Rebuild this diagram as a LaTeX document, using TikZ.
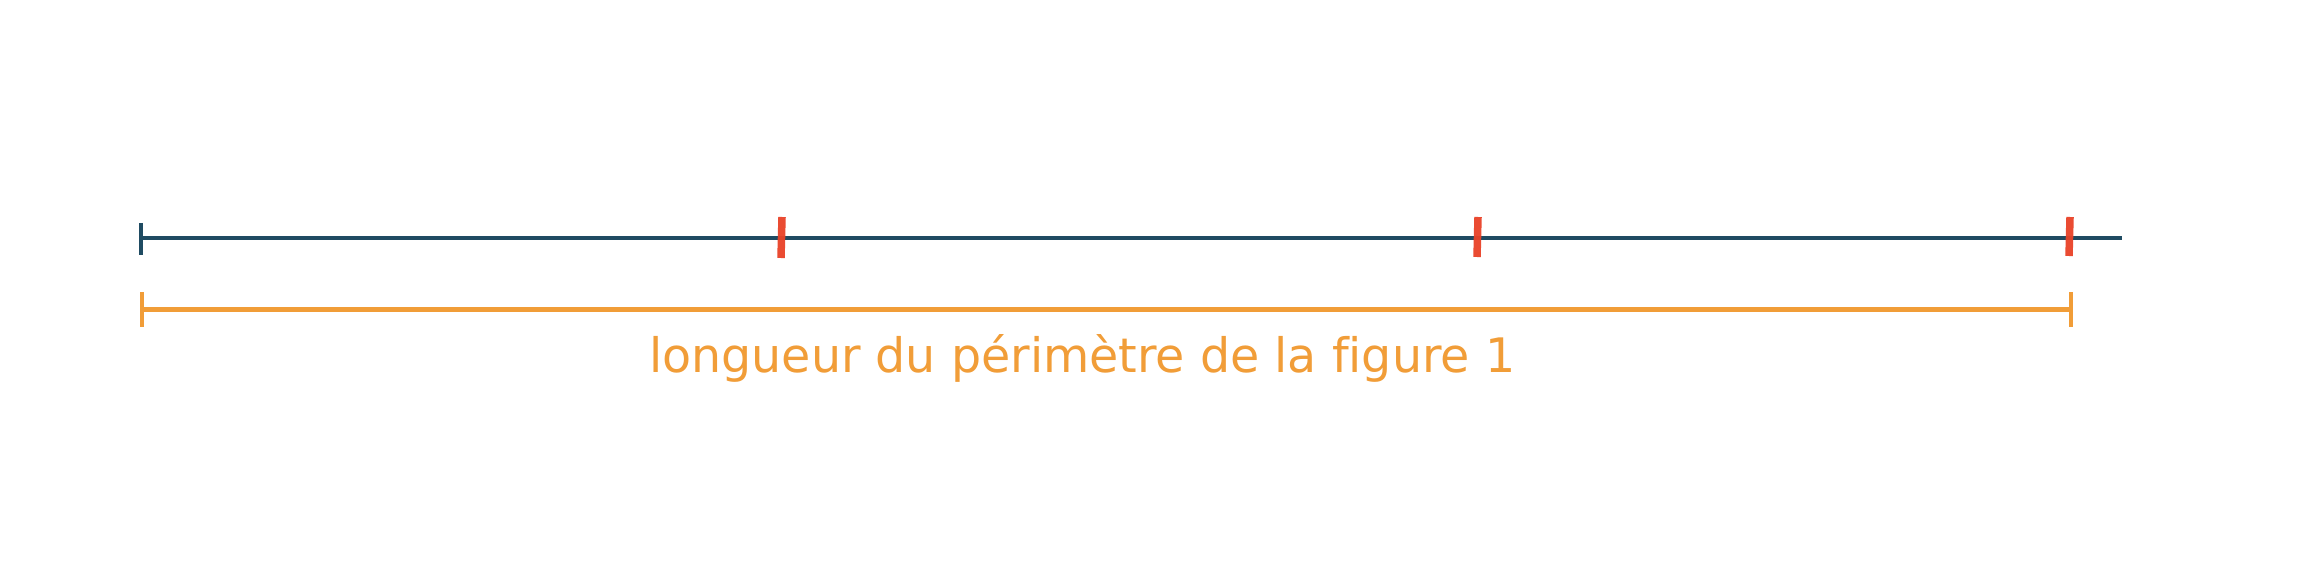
\documentclass[tikz,border=0pt]{standalone}
\usepackage{fontspec}
\setmainfont[Ligatures=NoCommon]{DejaVu Sans}
\definecolor{navyline}{RGB}{31,75,98}
\definecolor{orangeline}{RGB}{241,157,56}
\definecolor{redmark}{RGB}{233,66,40}
\begin{document}
\begin{tikzpicture}[x=1pt,y=-1pt,
  mainline/.style={draw=navyline,line width=4pt},
  lenline/.style={draw=orangeline,line width=4.5pt},
  redtick/.style={draw=redmark,line width=7.5pt,opacity=0.95},
  lbl/.style={text=orangeline,font=\fontsize{47.5}{57}\selectfont,inner sep=0pt,anchor=base west}]
\useasboundingbox[fill=white] (0,0) rectangle (2298,569);
% main line
\coordinate (mA) at (141,238.5);
\coordinate (mB) at (2122,238.5);
\coordinate (tA1) at (141,223);
\coordinate (tA2) at (141,255);
\draw[mainline] (mA) -- (mB);
\draw[mainline] (tA1) -- (tA2);
% red marks
\coordinate (r1a) at (782,217);
\coordinate (r1b) at (781,258);
\coordinate (r2a) at (1478,217);
\coordinate (r2b) at (1477,257);
\coordinate (r3a) at (2070,217);
\coordinate (r3b) at (2069,256);
\draw[redtick] (r1a) -- (r1b);
\draw[redtick] (r2a) -- (r2b);
\draw[redtick] (r3a) -- (r3b);
% orange length line
\coordinate (oA) at (142,309.5);
\coordinate (oB) at (2071,309.5);
\coordinate (oA1) at (142,292);
\coordinate (oA2) at (142,327);
\coordinate (oB1) at (2071,292);
\coordinate (oB2) at (2071,327);
\draw[lenline] (oA) -- (oB);
\draw[lenline] (oA1) -- (oA2);
\draw[lenline] (oB1) -- (oB2);
\node[lbl] (label) at (649,372) {longueur du périmètre de la figure 1};
\end{tikzpicture}
\end{document}
